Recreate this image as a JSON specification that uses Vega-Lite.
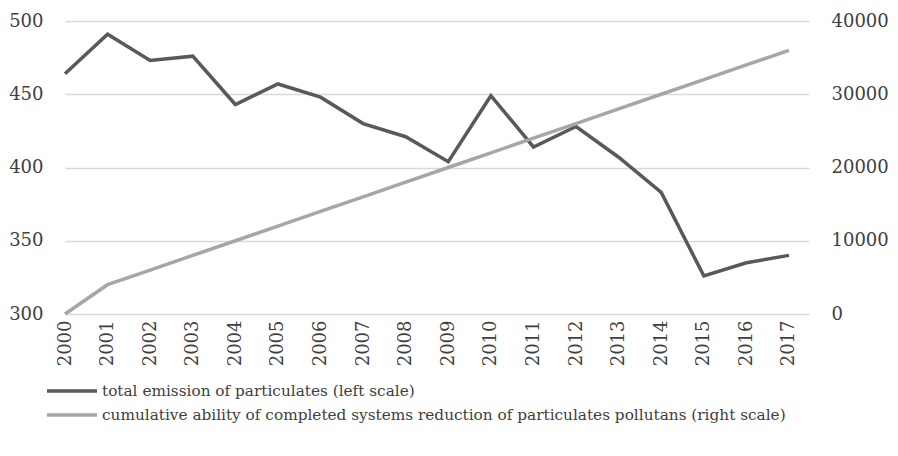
{
  "$schema": "https://vega.github.io/schema/vega-lite/v6.json",
  "width": 744,
  "height": 293,
  "autosize": {"type": "none"},
  "padding": {"left": 65, "top": 21, "right": 89, "bottom": 142},
  "background": "white",
  "config": {
    "view": {"stroke": null},
    "font": "DejaVu Serif",
    "axis": {"labelFont": "DejaVu Serif", "labelColor": "#404040", "labelFontSize": 18, "domain": false, "ticks": false, "gridColor": "#d9d9d9", "gridWidth": 1.5}
  },
  "data": {
    "values": [
      {"year": 2000, "emission": 464, "ability": 0},
      {"year": 2001, "emission": 491, "ability": 4000},
      {"year": 2002, "emission": 473, "ability": 6000},
      {"year": 2003, "emission": 476, "ability": 8000},
      {"year": 2004, "emission": 443, "ability": 10000},
      {"year": 2005, "emission": 457, "ability": 12000},
      {"year": 2006, "emission": 448, "ability": 14000},
      {"year": 2007, "emission": 430, "ability": 16000},
      {"year": 2008, "emission": 421, "ability": 18000},
      {"year": 2009, "emission": 404, "ability": 20000},
      {"year": 2010, "emission": 449, "ability": 22000},
      {"year": 2011, "emission": 414, "ability": 24000},
      {"year": 2012, "emission": 428, "ability": 26000},
      {"year": 2013, "emission": 407, "ability": 28000},
      {"year": 2014, "emission": 383, "ability": 30000},
      {"year": 2015, "emission": 326, "ability": 32000},
      {"year": 2016, "emission": 335, "ability": 34000},
      {"year": 2017, "emission": 340, "ability": 36000}
    ]
  },
  "encoding": {
    "x": {
      "field": "year", "type": "quantitative",
      "scale": {"domain": [2000, 2017.47], "nice": false, "zero": false},
      "axis": {"title": null, "values": [2000,2001,2002,2003,2004,2005,2006,2007,2008,2009,2010,2011,2012,2013,2014,2015,2016,2017], "format": "d", "labelAngle": -90, "labelAlign": "right", "labelBaseline": "middle", "labelPadding": 6, "grid": false, "labelOverlap": false, "labelFlush": false}
    }
  },
  "layer": [
    {
      "mark": {"type": "line", "strokeWidth": 3.5},
      "encoding": {
        "y": {"field": "emission", "type": "quantitative", "scale": {"domain": [300, 500], "nice": false, "zero": false},
          "axis": {"title": null, "values": [300, 350, 400, 450, 500], "labelPadding": 22, "grid": true}},
        "color": {"datum": "total emission of particulates (left scale)", "type": "nominal",
          "scale": {"domain": ["total emission of particulates (left scale)", "cumulative ability of completed systems reduction of particulates pollutans (right scale)"], "range": ["#595959", "#a6a6a6"]},
          "legend": {"title": null, "orient": "none", "legendX": -20, "legendY": 359, "direction": "vertical", "symbolType": "stroke", "symbolSize": 2500, "symbolStrokeWidth": 3.5, "clipHeight": 22, "labelFont": "DejaVu Serif", "labelFontSize": 15.3, "labelColor": "#404040", "labelLimit": 0, "rowPadding": 2, "labelOffset": 3}}
      }
    },
    {
      "mark": {"type": "line", "strokeWidth": 3.5},
      "encoding": {
        "y": {"field": "ability", "type": "quantitative", "scale": {"domain": [0, 40000], "nice": false},
          "axis": {"title": null, "orient": "right", "values": [0, 10000, 20000, 30000, 40000], "format": "d", "labelPadding": 22, "grid": false}},
        "color": {"datum": "cumulative ability of completed systems reduction of particulates pollutans (right scale)", "type": "nominal"}
      }
    }
  ],
  "resolve": {"scale": {"y": "independent"}}
}
